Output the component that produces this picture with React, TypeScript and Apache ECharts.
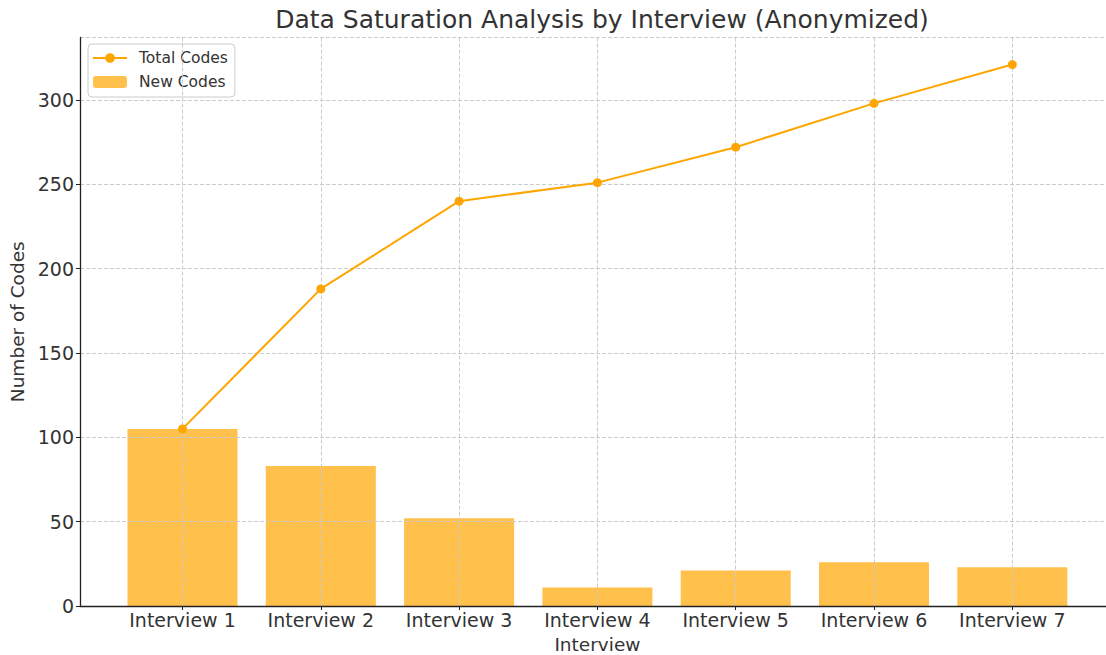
import React, { useEffect, useRef } from "react";
import * as echarts from "echarts";

const categories = ["Interview 1", "Interview 2", "Interview 3", "Interview 4", "Interview 5", "Interview 6", "Interview 7"];
const newCodes = [105, 83, 52, 11, 21, 26, 23];
const totalCodes = [105, 188, 240, 251, 272, 298, 321];
const yTicks = [0, 50, 100, 150, 200, 250, 300];

const FONT = "DejaVu Sans";
const TEXT = "#333333";
const GRIDC = "#cbcbcb";

export default function App() {
  const ref = useRef<HTMLDivElement>(null);
  useEffect(() => {
    if (!ref.current) return;
    const chart = echarts.init(ref.current, null, { renderer: "svg" });
    const yMax = 337.05;
    const top = 37.5;
    const bottom = 49;
    chart.setOption({
      animation: false,
      textStyle: { fontFamily: FONT, color: TEXT },
      title: {
        text: "Data Saturation Analysis by Interview (Anonymized)",
        left: 597,
        textAlign: "center",
        top: 2,
        textStyle: { fontFamily: FONT, fontSize: 25, fontWeight: "normal", color: TEXT },
      },
      legend: {
        data: ["Total Codes", "New Codes"],
        orient: "vertical",
        left: 88,
        top: 44,
        padding: [6, 7, 7, 4],
        itemGap: 8,
        itemWidth: 34,
        itemHeight: 12,
        borderColor: "#cccccc",
        borderWidth: 1,
        borderRadius: 4,
        backgroundColor: "#ffffff",
        textStyle: { fontFamily: FONT, fontSize: 15.5, color: TEXT, padding: [0, 0, 0, 7] },
      },
      grid: [
        { left: 80, right: 0, top, bottom, containLabel: false, outerBoundsMode: "none" },
        { left: 182.5, right: 1106 - 1012.3, top, bottom, containLabel: false, outerBoundsMode: "none" },
      ],
      xAxis: [
        {
          gridIndex: 0,
          type: "value",
          min: 0,
          max: 1,
          axisLine: { show: true, onZero: false, lineStyle: { color: "#222222", width: 1.3 } },
          axisTick: { show: false },
          axisLabel: { show: false },
          splitLine: { show: false },
          z: 8,
        },
        {
          gridIndex: 1,
          type: "value",
          min: 0,
          max: categories.length - 1,
          interval: 1,
          name: "Interview",
          nameLocation: "middle",
          nameGap: 29,
          nameTextStyle: { fontFamily: FONT, fontSize: 18.5, color: TEXT },
          axisLine: { show: false },
          axisTick: { show: true, length: 4, lineStyle: { color: "#222222" } },
          axisLabel: {
            fontFamily: FONT,
            fontSize: 19,
            color: TEXT,
            margin: 4,
            formatter: (v: number) => categories[Math.round(v)] ?? "",
          },
          splitLine: { show: true, lineStyle: { color: GRIDC, type: [4, 2], width: 1 } },
          z: 5,
        },
      ],
      yAxis: [
        {
          gridIndex: 0,
          type: "value",
          min: 0,
          max: yMax,
          interval: 50,
          name: "Number of Codes",
          nameLocation: "middle",
          nameGap: 50,
          nameTextStyle: { fontFamily: FONT, fontSize: 18.5, color: TEXT },
          axisLine: { show: true, lineStyle: { color: "#222222", width: 1.3 } },
          axisTick: { show: true, length: 4, lineStyle: { color: "#222222" } },
          axisLabel: {
            fontFamily: FONT,
            fontSize: 19,
            color: TEXT,
            margin: 6,
            showMaxLabel: false,
            formatter: (v: number) => (yTicks.includes(v) ? String(v) : ""),
          },
          splitLine: { show: true, lineStyle: { color: GRIDC, type: [4, 2], width: 1 } },
          z: 5,
        },
        {
          gridIndex: 1,
          type: "value",
          min: 0,
          max: yMax,
          interval: 50,
          show: false,
          splitLine: { show: false },
        },
      ],
      series: [
        {
          name: "New Codes",
          type: "bar",
          xAxisIndex: 1,
          yAxisIndex: 1,
          data: newCodes.map((v, i) => [i, v]),
          barWidth: 110,
          clip: false,
          itemStyle: { color: "#FFA500", opacity: 0.7 },
          z: 2,
        },
        {
          name: "Total Codes",
          type: "line",
          xAxisIndex: 1,
          yAxisIndex: 1,
          data: totalCodes.map((v, i) => [i, v]),
          symbol: "circle",
          symbolSize: 9,
          clip: false,
          lineStyle: { color: "#FFA500", width: 2 },
          itemStyle: { color: "#FFA500" },
          z: 6,
        },
      ],
    });
    return () => chart.dispose();
  }, []);
  return <div ref={ref} style={{ position: "absolute", left: 0, top: 0, width: 1106, height: 655 }} />;
}
